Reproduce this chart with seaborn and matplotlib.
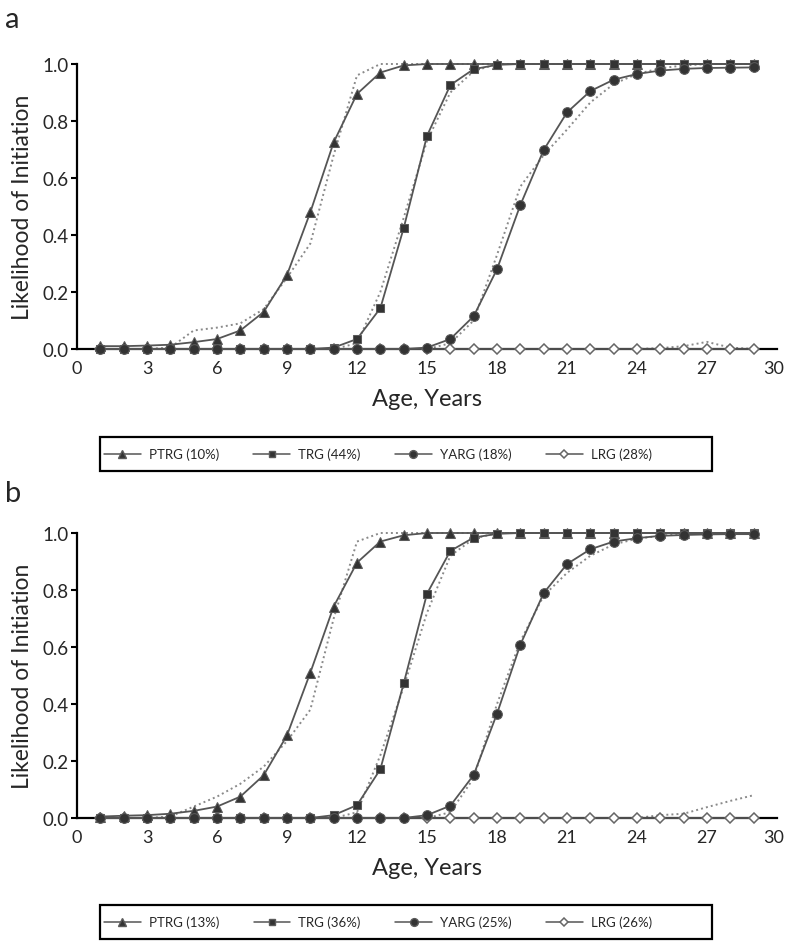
import numpy as np
import pandas as pd
import matplotlib
matplotlib.use('Agg')
import matplotlib.pyplot as plt
import matplotlib.transforms as mtransforms
import seaborn as sns
from matplotlib.lines import Line2D
from matplotlib.patches import Rectangle

ages = list(range(1, 30))

# panel a (fitted = solid with markers, observed = dotted)
ptrg_a_fit = [0.01, 0.01, 0.012, 0.015, 0.024, 0.035, 0.065, 0.13, 0.26, 0.48, 0.725, 0.895, 0.97, 0.995,
              1, 1, 1, 1, 1, 1, 1, 1, 1, 1, 1, 1, 1, 1, 1]
ptrg_a_obs = [0, 0, 0, 0.005, 0.065, 0.075, 0.09, 0.14, 0.25, 0.37, 0.68, 0.96, 1.0, 1.0,
              1, 1, 1, 1, 1, 1, 1, 1, 1, 1, 1, 1, 1, 1, 1]
trg_a_fit = [0, 0, 0, 0, 0, 0, 0, 0, 0, 0, 0.005, 0.035, 0.143, 0.424, 0.748, 0.926, 0.982, 0.997,
             1, 1, 1, 1, 1, 1, 1, 1, 1, 1, 1]
trg_a_obs = [0, 0, 0, 0, 0, 0, 0, 0, 0, 0, 0, 0.02, 0.2, 0.46, 0.73, 0.9, 0.975, 1.0,
             1, 1, 1, 1, 1, 1, 1, 1, 1, 1, 1]
yarg_a_fit = [0, 0, 0, 0, 0, 0, 0, 0, 0, 0, 0, 0, 0, 0, 0.005, 0.035, 0.115, 0.28, 0.505, 0.698,
              0.83, 0.905, 0.945, 0.965, 0.977, 0.983, 0.986, 0.987, 0.988]
yarg_a_obs = [0, 0, 0, 0, 0, 0, 0, 0, 0, 0, 0, 0, 0, 0, 0, 0.02, 0.1, 0.33, 0.57, 0.68,
              0.77, 0.865, 0.93, 0.965, 0.985, 0.995, 1.0, 1.0, 1.0]
lrg_a_fit = [0] * 29
lrg_a_obs = [0] * 24 + [0.003, 0.01, 0.025, 0.005, 0]

# panel b
ptrg_b_fit = [0.005, 0.008, 0.01, 0.015, 0.025, 0.04, 0.075, 0.15, 0.29, 0.51, 0.742, 0.896, 0.97, 0.992,
              1, 1, 1, 1, 1, 1, 1, 1, 1, 1, 1, 1, 1, 1, 1]
ptrg_b_obs = [0, 0, 0, 0.005, 0.04, 0.075, 0.12, 0.18, 0.27, 0.38, 0.7, 0.97, 1.0, 1.0,
              1, 1, 1, 1, 1, 1, 1, 1, 1, 1, 1, 1, 1, 1, 1]
trg_b_fit = [0, 0, 0, 0, 0, 0, 0, 0, 0, 0, 0.01, 0.045, 0.171, 0.472, 0.787, 0.937, 0.984, 0.997,
             1, 1, 1, 1, 1, 1, 1, 1, 1, 1, 1]
trg_b_obs = [0, 0, 0, 0, 0, 0, 0, 0, 0, 0, 0, 0.02, 0.22, 0.46, 0.72, 0.92, 0.98, 1.0,
             1, 1, 1, 1, 1, 1, 1, 1, 1, 1, 1]
yarg_b_fit = [0, 0, 0, 0, 0, 0, 0, 0, 0, 0, 0, 0, 0, 0, 0.01, 0.043, 0.151, 0.366, 0.608, 0.789,
              0.891, 0.943, 0.97, 0.982, 0.99, 0.993, 0.995, 0.996, 0.996]
yarg_b_obs = [0, 0, 0, 0, 0, 0, 0, 0, 0, 0, 0, 0, 0, 0, 0, 0.02, 0.14, 0.4, 0.62, 0.78,
              0.86, 0.92, 0.96, 0.98, 0.99, 1.0, 1.0, 1.0, 1.0]
lrg_b_fit = [0] * 29
lrg_b_obs = [0] * 24 + [0.01, 0.015, 0.038, 0.06, 0.08]

groups = ['PTRG', 'TRG', 'YARG', 'LRG']
labels_a = ['PTRG (10%)', 'TRG (44%)', 'YARG (18%)', 'LRG (28%)']
labels_b = ['PTRG (13%)', 'TRG (36%)', 'YARG (25%)', 'LRG (26%)']
x_ticks = [0, 3, 6, 9, 12, 15, 18, 21, 24, 27, 30]
y_ticks = [0.0, 0.2, 0.4, 0.6, 0.8, 1.0]

sns.set_style('ticks')
plt.rcParams['font.family'] = ['Lato', 'DejaVu Sans']

line_col = '#555555'
face_col = '#333333'
dot_col = '#8a8a8a'
styles = {
    'PTRG': dict(marker='^', markersize=7.5, markerfacecolor=face_col, markeredgecolor='#5a5a5a'),
    'TRG': dict(marker='s', markersize=5.5, markerfacecolor=face_col, markeredgecolor='#5a5a5a'),
    'YARG': dict(marker='o', markersize=7, markerfacecolor=face_col, markeredgecolor='#5a5a5a'),
    'LRG': dict(marker='D', markersize=5, markerfacecolor='white', markeredgecolor='#666666',
                markeredgewidth=1.1),
}
zorders = {'LRG': 3, 'PTRG': 4, 'TRG': 5, 'YARG': 6}

fig = plt.figure(figsize=(7.85, 9.45), dpi=100)
W, H = 785, 945


def panel(bottom_px, fits, obs, labels, letter, letter_y, legend_top):
    ax = fig.add_axes([77 / W, 1 - bottom_px / H, 700 / W, 285 / H])
    df_fit = pd.DataFrame({'age': ages * 4,
                           'value': np.concatenate([fits[g] for g in groups]),
                           'group': np.repeat(groups, 29)})
    df_obs = pd.DataFrame({'age': ages * 4,
                           'value': np.concatenate([obs[g] for g in groups]),
                           'group': np.repeat(groups, 29)})
    for g in ['LRG', 'PTRG', 'TRG', 'YARG']:
        d = df_obs[df_obs.group == g]
        sns.lineplot(data=d, x='age', y='value', ax=ax, color=dot_col, linestyle=(0, (1, 1.6)),
                     linewidth=1.4, zorder=2, clip_on=False)
    for g in ['LRG', 'PTRG', 'TRG', 'YARG']:
        d = df_fit[df_fit.group == g]
        sns.lineplot(data=d, x='age', y='value', ax=ax, color=line_col, linewidth=1.3,
                     zorder=zorders[g], clip_on=False, **styles[g])
    ax.set_xlim(0, 30)
    ax.set_ylim(0, 1)
    ax.set_xticks(x_ticks)
    ax.set_yticks(y_ticks)
    ax.set_yticklabels([f'{v:.1f}' for v in y_ticks])
    ax.tick_params(axis='x', length=0, pad=8, labelsize=13)
    ax.tick_params(axis='y', length=4, width=1.5, pad=2, labelsize=13.5, color='black')
    # keep the last x label ("30") inside the figure edge
    last = ax.get_xticklabels()[-1]
    last.set_transform(last.get_transform() +
                       mtransforms.ScaledTranslation(-3 / 100, 0, fig.dpi_scale_trans))
    sns.despine(ax=ax)
    for s in ['left', 'bottom']:
        ax.spines[s].set_linewidth(1.6)
        ax.spines[s].set_color('black')
    ax.set_xlabel('Age, Years', fontsize=17)
    ax.set_ylabel('Likelihood of Initiation', fontsize=16.5)
    ax.xaxis.set_label_coords(0.5, -0.175)
    ax.xaxis.label.set_verticalalignment('center')
    ax.yaxis.set_label_coords(-0.078, 0.5)
    ax.yaxis.label.set_verticalalignment('center')
    fig.text(5 / W, 1 - letter_y / H, letter, fontsize=21, va='center', ha='left')

    # legend box drawn as a figure rectangle, entries placed left-aligned inside
    fig.patches.append(Rectangle((100 / W, 1 - (legend_top + 34) / H), 612 / W, 34 / H,
                                 transform=fig.transFigure, fill=False, edgecolor='black',
                                 linewidth=1.6, zorder=10))
    handles = [Line2D([], [], color=line_col, linewidth=1.1,
                      **{**styles[g], 'markersize': styles[g]['markersize'] * 0.8}) for g in groups]
    fig.legend(handles, labels, loc='center left', ncol=4,
               bbox_to_anchor=(104 / W, 1 - (legend_top + 17) / H),
               bbox_transform=fig.transFigure, fontsize=9.5, frameon=False,
               handlelength=2.8, handletextpad=0.6, columnspacing=2.6, borderpad=0, borderaxespad=0)
    return ax


panel(350,
      {'PTRG': ptrg_a_fit, 'TRG': trg_a_fit, 'YARG': yarg_a_fit, 'LRG': lrg_a_fit},
      {'PTRG': ptrg_a_obs, 'TRG': trg_a_obs, 'YARG': yarg_a_obs, 'LRG': lrg_a_obs},
      labels_a, 'a', 20, 438)
panel(819,
      {'PTRG': ptrg_b_fit, 'TRG': trg_b_fit, 'YARG': yarg_b_fit, 'LRG': lrg_b_fit},
      {'PTRG': ptrg_b_obs, 'TRG': trg_b_obs, 'YARG': yarg_b_obs, 'LRG': lrg_b_obs},
      labels_b, 'b', 494, 906)

plt.savefig('out.png', dpi=100)
